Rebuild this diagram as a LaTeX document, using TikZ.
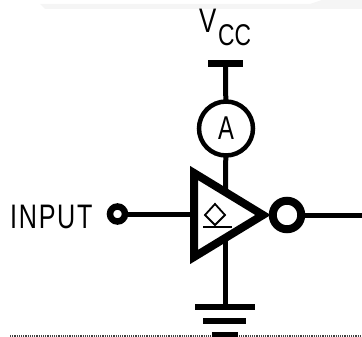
\documentclass[tikz,border=0pt]{standalone}
\usepackage{fontspec}
\setmainfont{Liberation Sans}
\tikzset{
  wire/.style={line width=5pt},
  gbar/.style={line width=6pt},
  lbl/.style={inner sep=0pt,anchor=base west},
  pin/.style={circle,draw,fill=white,inner sep=0pt},
  ampst/.style={pin,line width=4.5pt,minimum size=54pt,font=\fontsize{33}{33}\selectfont},
  bubst/.style={pin,line width=8pt,minimum size=28.5pt},
  inpst/.style={pin,line width=6.5pt,minimum size=15pt},
}
\begin{document}
\begin{tikzpicture}[x=1pt,y=-1pt]
\useasboundingbox (0,0) rectangle (362,337);
\fill[black!4] (40,4) -- (310,4) -- (322,0) -- (362,0) -- (362,9) -- (45,9) -- cycle;
\draw[line width=1.2pt,black!75,densely dotted] (10,336) -- (362,336);
% named points
\coordinate (vccL) at (208,63.5);
\coordinate (vccR) at (243,63.5);
\coordinate (vcc) at (225.5,63.5);
\coordinate (g1) at (225.5,307);
\coordinate (g1L) at (195,307);
\coordinate (g1R) at (255,307);
\coordinate (g2L) at (203,321);
\coordinate (g2R) at (246,321);
\coordinate (g3L) at (212,335);
\coordinate (g3R) at (238,335);
\coordinate (tl) at (194,173);
\coordinate (bl) at (194,257);
\coordinate (tip) at (263,215);
\coordinate (tv) at (225.5,192);
\coordinate (bv) at (225.5,238);
\coordinate (inL) at (194,214);
\coordinate (outR) at (362,215);
\coordinate (ampc) at (226,128.5);
\coordinate (bubc) at (287,215);
\coordinate (inpc) at (117.5,214);
% wires under the round symbols
\draw[wire] (vcc) -- (ampc);
\draw[wire] (ampc) -- (tv);
\draw[wire] (bv) -- (g1);
\draw[wire] (inpc) -- (inL);
\draw[wire] (bubc) -- (outR);
% amp, pins
\node[ampst] (amp) at (ampc) {\addfontfeature{FakeStretch=0.72}A};
\node[bubst] (bub) at (bubc) {};
\node[inpst] (inp) at (inpc) {};
% bars
\draw[line width=7pt] (vccL) -- (vccR);
\draw[gbar] (g1L) -- (g1R);
\draw[gbar] (g2L) -- (g2R);
\draw[gbar] (g3L) -- (g3R);
% buffer
\draw[line width=8pt,fill=white,miter limit=3] (tl) -- (tip) -- (bl) -- cycle;
\draw[line width=1.8pt] (215,204) -- (225,215) -- (215,225) -- (205,215) -- cycle;
\draw[line width=1.8pt] (203,227) -- (232,227);
% text
\node[lbl,font=\fontsize{34}{34}\selectfont] (v) at (199,33) {\addfontfeature{FakeStretch=0.76}V};
\node[lbl,font=\fontsize{30}{30}\selectfont] (cc) at (218,46) {\addfontfeature{FakeStretch=0.76}CC};
\node[lbl,font=\fontsize{34}{34}\selectfont] (input) at (10,228) {\addfontfeature{FakeStretch=0.74,LetterSpace=5}INPUT};
\end{tikzpicture}
\end{document}
